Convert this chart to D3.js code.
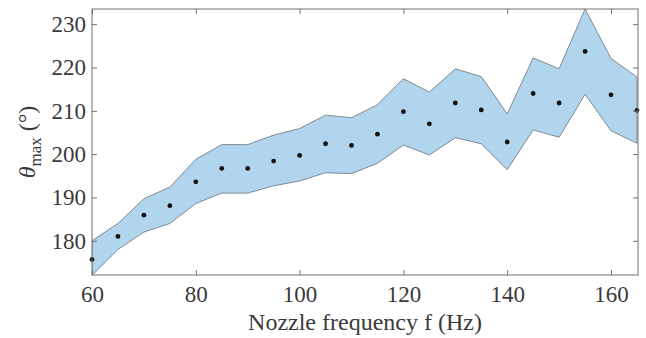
<!DOCTYPE html>
<html>
<head>
<meta charset="utf-8">
<script src="https://cdn.jsdelivr.net/npm/d3@7"></script>
<style>
  body { margin: 0; background: #fff; }
  svg text { font-family: "Liberation Serif", "DejaVu Serif", serif; fill: #3a3a3a; }
</style>
</head>
<body>
<svg id="chart" width="646" height="338"></svg>
<script>
// nozzle frequency (Hz)
var freq = [60, 65, 70, 75, 80, 85, 90, 95, 100, 105, 110, 115, 120, 125, 130, 135, 140, 145, 150, 155, 160, 165];
// mean theta_max (deg)
var thetaMean = [175.7, 181.0, 185.9, 188.1, 193.6, 196.7, 196.7, 198.4, 199.7, 202.4, 202.0, 204.6, 209.8, 207.0, 211.8, 210.2, 202.8, 214.0, 211.8, 223.7, 213.7, 210.1];
// band upper / lower
var thetaUpper = [180.0, 184.0, 189.7, 192.4, 198.8, 202.2, 202.2, 204.4, 205.9, 209.0, 208.4, 211.4, 217.4, 214.3, 219.7, 217.9, 209.3, 222.2, 219.7, 233.5, 222.1, 217.8];
var thetaLower = [172.0, 178.0, 182.0, 184.0, 188.6, 191.0, 191.0, 192.7, 193.8, 195.7, 195.5, 197.9, 202.1, 199.8, 203.8, 202.4, 196.4, 205.6, 203.9, 213.8, 205.4, 202.5];

var xTicks = [60, 80, 100, 120, 140, 160];
var yTicks = [180, 190, 200, 210, 220, 230];

var svg = d3.select("svg#chart");
var margin = {left: 92, right: 8, top: 9, bottom: 63};
var width = 646 - margin.left - margin.right,
    height = 338 - margin.top - margin.bottom;

var x = d3.scaleLinear().domain([60, 165.2]).range([0, width]);
var y = d3.scaleLinear().domain([172.1, 233.5]).range([height, 0]);

var g = svg.append("g").attr("transform", "translate(" + margin.left + "," + margin.top + ")");

g.append("clipPath").attr("id", "clip")
  .append("rect").attr("width", width).attr("height", height);

var rows = freq.map(function(f, i) {
  return {f: f, m: thetaMean[i], hi: thetaUpper[i], lo: thetaLower[i]};
});

// shaded band
var area = d3.area()
  .x(function(d) { return x(d.f); })
  .y0(function(d) { return y(d.lo); })
  .y1(function(d) { return y(d.hi); });

g.append("path")
  .datum(rows)
  .attr("clip-path", "url(#clip)")
  .attr("d", area)
  .attr("fill", "#b1d5ec")
  .attr("stroke", "#7f8a93")
  .attr("stroke-width", 1);

// mean points
g.append("g").selectAll("circle")
  .data(rows)
  .enter().append("circle")
  .attr("cx", function(d) { return x(d.f); })
  .attr("cy", function(d) { return y(d.m); })
  .attr("r", 2.4)
  .attr("fill", "#111");

// axes (MATLAB style box, inward ticks)
var tickLen = 5;
function styleAxis(sel) {
  sel.select(".domain").remove();
  sel.selectAll(".tick line").attr("stroke", "#6e6e6e");
}

g.append("g")
  .attr("transform", "translate(0," + height + ")")
  .call(d3.axisBottom(x).tickValues(xTicks).tickSizeInner(-tickLen).tickSizeOuter(0).tickPadding(11))
  .call(styleAxis)
  .selectAll("text").attr("font-size", 23).attr("fill", "#3a3a3a");

g.append("g")
  .call(d3.axisTop(x).tickValues(xTicks).tickSizeInner(-tickLen).tickSizeOuter(0).tickFormat(""))
  .call(styleAxis);

g.append("g")
  .call(d3.axisLeft(y).tickValues(yTicks).tickSizeInner(-tickLen).tickSizeOuter(0).tickPadding(6))
  .call(styleAxis)
  .selectAll("text").attr("font-size", 23).attr("fill", "#3a3a3a");

g.append("g")
  .attr("transform", "translate(" + width + ",0)")
  .call(d3.axisRight(y).tickValues(yTicks).tickSizeInner(-tickLen).tickSizeOuter(0).tickFormat(""))
  .call(styleAxis);

g.append("rect")
  .attr("width", width).attr("height", height)
  .attr("fill", "none").attr("stroke", "#6e6e6e").attr("stroke-width", 1);

// axis labels
g.append("text")
  .attr("x", width / 2)
  .attr("y", height + 55)
  .attr("text-anchor", "middle")
  .attr("font-size", 24)
  .text("Nozzle frequency f (Hz)");

var yl = svg.append("text")
  .attr("transform", "translate(35," + (margin.top + height / 2) + ") rotate(-90)")
  .attr("text-anchor", "middle")
  .attr("font-size", 24);
yl.append("tspan").attr("font-style", "italic").text("θ");
yl.append("tspan").attr("font-size", 17).attr("dy", 6).text("max");
yl.append("tspan").attr("dy", -6).text(" (°)");
</script>
</body>
</html>
